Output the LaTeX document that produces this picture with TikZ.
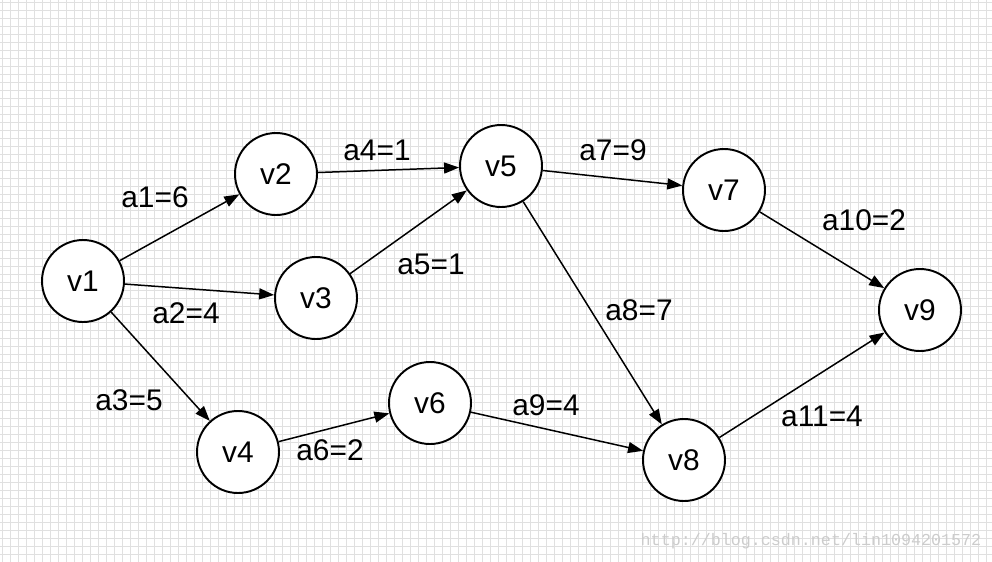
\documentclass[tikz,border=0pt]{standalone}
\usepackage{fontspec}
\setmainfont{Liberation Sans}
\setmonofont{Liberation Mono}
\usepackage{tikz}
\usetikzlibrary{arrows.meta}

\begin{document}
\begin{tikzpicture}[
  x=0.02cm, y=-0.02cm,
  every node/.style={font=\fontsize{17}{20}\selectfont},
  gridline/.style={draw=black!12,line width=0.5pt},
  vertex/.style={circle,draw,fill=white,line width=1.1pt,minimum size=1.64cm,inner sep=0pt},
  edge/.style={line width=0.85pt,-{Triangle[length=0.3cm,width=0.22cm]}},
  weight/.style={inner sep=1pt}
]

\useasboundingbox (0,0) rectangle (992,562);
\fill[white] (0,0) rectangle (992,562);

% 背景の方眼
\foreach \x in {2.5,10.5,...,992} \draw[gridline] (\x,0) -- (\x,562);
\foreach \y in {2.5,10.5,...,562} \draw[gridline] (0,\y) -- (992,\y);

% 頂点
\node[vertex] (v1) at (83,281) {v1};
\node[vertex] (v2) at (276,174) {v2};
\node[vertex] (v3) at (316,298) {v3};
\node[vertex] (v4) at (238,452) {v4};
\node[vertex] (v5) at (501,166) {v5};
\node[vertex] (v6) at (430,403) {v6};
\node[vertex] (v7) at (724,190) {v7};
\node[vertex] (v8) at (684,460) {v8};
\node[vertex] (v9) at (920,310) {v9};

% 辺
\draw[edge] (v1) -- (v2);
\draw[edge] (v1) -- (v3);
\draw[edge] (v1) -- (v4);
\draw[edge] (v2) -- (v5);
\draw[edge] (v3) -- (v5);
\draw[edge] (v4) -- (v6);
\draw[edge] (v5) -- (v7);
\draw[edge] (v5) -- (v8);
\draw[edge] (v6) -- (v8);
\draw[edge] (v7) -- (v9);
\draw[edge] (v8) -- (v9);

% 重み
\node[weight] (a1) at (155,197) {a1=6};
\node[weight] (a2) at (186,313) {a2=4};
\node[weight] (a3) at (129,400) {a3=5};
\node[weight] (a4) at (377,150) {a4=1};
\node[weight] (a5) at (431,264) {a5=1};
\node[weight] (a6) at (330,450) {a6=2};
\node[weight] (a7) at (613,150) {a7=9};
\node[weight] (a8) at (639,310) {a8=7};
\node[weight] (a9) at (546,405) {a9=4};
\node[weight] (a10) at (864,220) {a10=2};
\node[weight] (a11) at (822,416) {a11=4};

% 透かし
\node[text=black!20,font=\ttfamily\fontsize{9.5}{11}\selectfont] (wm) at (811,541) {http://blog.csdn.net/lin1094201572};

\end{tikzpicture}
\end{document}
